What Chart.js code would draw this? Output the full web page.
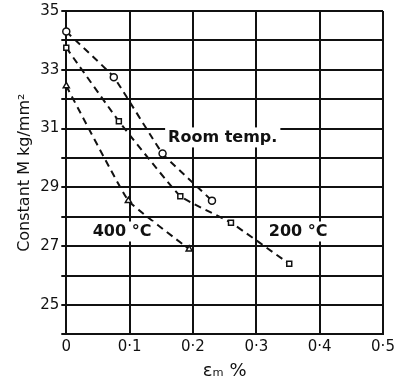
<!DOCTYPE html>
<html>
<head>
<meta charset="utf-8">
<script src="https://cdn.jsdelivr.net/npm/chart.js@4/dist/chart.umd.min.js"></script>
<style>
  html, body { margin: 0; padding: 0; background: #fff; }
  #wrap { width: 394px; height: 383px; }
</style>
</head>
<body>
<div id="wrap"><canvas id="strainChart" width="394" height="383"></canvas></div>
<script>
(function () {
  // Data
  const roomX = [0, 0.075, 0.152, 0.23];
  const roomY = [34.3, 32.75, 30.15, 28.55];
  const t200X = [0, 0.083, 0.18, 0.26, 0.352];
  const t200Y = [33.75, 31.25, 28.7, 27.8, 26.4];
  const t400X = [0, 0.098, 0.194];
  const t400Y = [32.45, 28.55, 26.9];

  const xTicks = ['0', '0·1', '0·2', '0·3', '0·4', '0·5'];
  const yLabelled = [25, 27, 29, 31, 33, 35];

  // Curve labels: [text, x, y]
  const curveLabels = [
    ['Room temp.', 0.247, 30.7],
    ['200 °C', 0.366, 27.5],
    ['400 °C', 0.088, 27.5],
  ];

  const pts = (xs, ys) => xs.map((x, i) => ({ x: x, y: ys[i] }));

  const lineStyle = {
    borderColor: '#111',
    borderWidth: 2,
    borderDash: [7, 5],
    tension: 0.1,
    pointBackgroundColor: '#fff',
    pointBorderColor: '#111',
    pointBorderWidth: 1.5,
    pointRadius: 3.5,
    fill: false,
    clip: false,
  };

  const labelPlugin = {
    id: 'curveLabels',
    afterDatasetsDraw(chart) {
      const ctx = chart.ctx;
      const xs = chart.scales.x;
      const ys = chart.scales.y;
      ctx.save();
      ctx.font = 'bold 16px "DejaVu Sans"';
      ctx.textAlign = 'center';
      ctx.textBaseline = 'middle';
      curveLabels.forEach(function (l) {
        const px = xs.getPixelForValue(l[1]);
        const py = ys.getPixelForValue(l[2]);
        const w = ctx.measureText(l[0]).width;
        ctx.fillStyle = '#fff';
        ctx.fillRect(px - w / 2 - 3, py - 10, w + 6, 20);
        ctx.fillStyle = '#111';
        ctx.fillText(l[0], px, py);
      });
      ctx.restore();
    },
  };

  const ctx = document.getElementById('strainChart').getContext('2d');
  new Chart(ctx, {
    type: 'line',
    data: {
      datasets: [
        Object.assign({ label: 'Room temp.', data: pts(roomX, roomY), pointStyle: 'circle' }, lineStyle),
        Object.assign({ label: '200 °C', data: pts(t200X, t200Y), pointStyle: 'rect' }, lineStyle),
        Object.assign({ label: '400 °C', data: pts(t400X, t400Y), pointStyle: 'triangle' }, lineStyle),
      ],
    },
    options: {
      responsive: false,
      animation: false,
      layout: { padding: { top: 10, right: 0, left: 15, bottom: 1 } },
      plugins: {
        legend: { display: false },
        tooltip: { enabled: false },
      },
      scales: {
        x: {
          type: 'linear',
          min: 0,
          max: 0.5,
          afterFit: function (scale) {
            // let the last tick label hang to the canvas edge like the original
            scale.paddingRight = 11;
          },
          ticks: {
            stepSize: 0.1,
            color: '#111',
            font: { family: 'DejaVu Sans', size: 15 },
            padding: 4,
            callback: function (v) {
              return xTicks[Math.round(v * 10)];
            },
          },
          grid: { color: '#111', lineWidth: 2, drawTicks: false },
          border: { color: '#111', width: 2 },
          title: {
            display: true,
            text: 'εₘ %',
            color: '#111',
            font: { family: 'DejaVu Sans', size: 18 },
            padding: { top: 0, bottom: 0 },
          },
        },
        y: {
          min: 24,
          max: 35,
          ticks: {
            stepSize: 1,
            color: '#111',
            font: { family: 'DejaVu Sans', size: 15 },
            padding: 2,
            callback: function (v) {
              return yLabelled.includes(v) ? String(v) : '';
            },
          },
          grid: { color: '#111', lineWidth: 2, tickLength: 5 },
          border: { color: '#111', width: 2 },
          title: {
            display: true,
            text: 'Constant M kg/mm²',
            color: '#111',
            font: { family: 'DejaVu Sans', size: 16 },
            padding: { top: 0, bottom: 4 },
          },
        },
      },
    },
    plugins: [labelPlugin],
  });
})();
</script>
</body>
</html>
